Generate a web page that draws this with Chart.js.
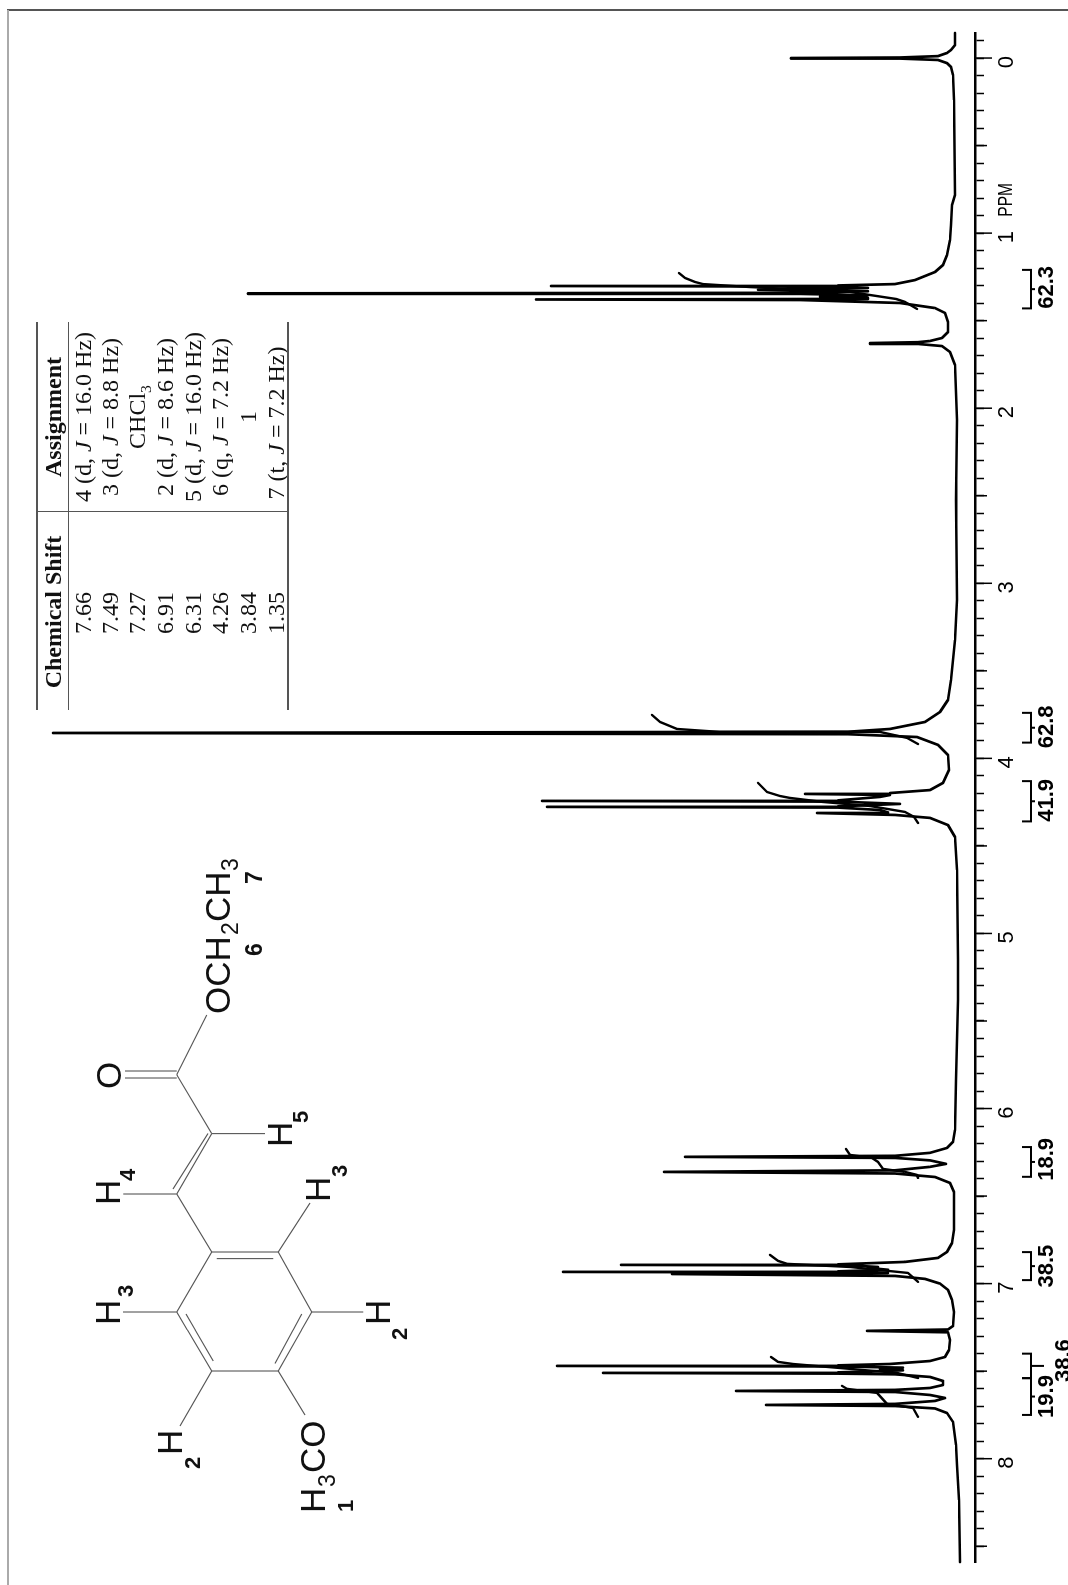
<!DOCTYPE html>
<html><head><meta charset="utf-8">
<style>
html,body{margin:0;padding:0;background:#fff;width:1068px;height:1585px;overflow:hidden}
#sheet{position:absolute;left:0;top:1585px;width:1585px;height:1068px;transform-origin:0 0;transform:rotate(-90deg);background:#fff;overflow:hidden}
#sheet canvas{position:absolute;left:0;top:0}
#mol{position:absolute;left:0;top:0}
.t{position:absolute;transform:translate(-50%,-50%);white-space:nowrap;font-family:"Liberation Serif",serif;font-size:24px;line-height:1;color:#111}
.h{font-weight:bold;font-size:24px}
.r{position:absolute;background:#555}
sub{font-size:65%;line-height:0}
</style>
<script src="https://cdn.jsdelivr.net/npm/chart.js@4/dist/chart.umd.min.js"></script>
</head><body>
<div id="sheet"><canvas id="c" width="1585" height="1068"></canvas><svg id="mol" width="1585" height="1068" xmlns="http://www.w3.org/2000/svg"></svg></div>
<script>
// 1H NMR trace: chemical shift (ppm) and signal height
const tracePpm = [-0.143,-0.074,-0.046,-0.029,-0.011,-0.003,0,0.003,0.011,0.029,0.051,0.097,0.24,0.782,0.84,0.954,1.039,1.125,1.182,1.222,1.268,1.291,1.299,1.302,1.305,1.313,1.323,1.332,1.341,1.344,1.347,1.355,1.363,1.371,1.376,1.379,1.382,1.399,1.428,1.456,1.508,1.565,1.599,1.616,1.623,1.628,1.633,1.645,1.679,1.753,2.067,2.524,3.095,3.324,3.552,3.666,3.735,3.792,3.832,3.848,3.855,3.862,3.878,3.923,3.981,4.066,4.14,4.181,4.198,4.203,4.209,4.22,4.24,4.243,4.247,4.26,4.274,4.277,4.281,4.295,4.309,4.312,4.323,4.34,4.381,4.449,4.637,5.151,5.38,5.837,6.122,6.19,6.225,6.253,6.27,6.276,6.282,6.296,6.316,6.333,6.353,6.362,6.371,6.391,6.425,6.477,6.693,6.768,6.819,6.853,6.876,6.89,6.893,6.896,6.905,6.91,6.921,6.93,6.933,6.936,6.939,6.945,6.956,6.973,7.0,7.036,7.093,7.162,7.242,7.262,7.27,7.278,7.322,7.379,7.419,7.442,7.459,7.467,7.47,7.473,7.48,7.487,7.495,7.507,7.51,7.514,7.518,7.533,7.556,7.579,7.596,7.607,7.613,7.619,7.636,7.653,7.67,7.687,7.693,7.699,7.713,7.739,7.79,7.921,8.036,8.236,8.59];
const traceHeight = [3,3,7,11,20,58,167,58,20,11,7,5,4,3,6,7,8,11,15,23,43,63,120,407,158,90,200,90,158,710,158,90,138,90,120,422,158,58,23,13,10,10,16,28,40,88,40,16,8,3,1,2,1,3,7,10,18,33,68,110,905,110,41,20,10,9,15,28,68,153,68,78,120,416,120,58,120,411,120,78,70,141,63,28,10,3,1,0,0,2,3,5,11,28,63,273,63,28,12,28,63,294,63,23,8,4,4,6,11,20,53,120,337,108,80,90,70,120,395,120,70,286,63,33,18,10,6,4,5,10,91,10,8,9,13,28,68,120,401,120,55,78,55,120,355,120,63,28,15,15,28,63,222,63,28,13,23,63,192,63,23,11,5,2,1,-1,-2];

// Integral trace segments over each multiplet
const int135Ppm = [1.228,1.256,1.279,1.291,1.308,1.336,1.376,1.393,1.433];
const int135Val = [279,273,263,255,208,108,62,53,41];
const int384Ppm = [3.752,3.792,3.832,3.849,3.849,3.849,3.883,3.918];
const int384Val = [306,298,281,238,158,78,51,40];
const int426Ppm = [4.14,4.192,4.215,4.226,4.249,4.272,4.306,4.334,4.369];
const int426Val = [200,191,178,168,135,88,53,44,40];
const int631Ppm = [6.231,6.265,6.282,6.305,6.345,6.362,6.379,6.396];
const int631Val = [112,108,86,80,75,53,41,40];
const int691Ppm = [6.836,6.87,6.887,6.905,6.939,6.99];
const int691Val = [188,180,171,108,50,40];
const int749Ppm = [7.419,7.447,7.459,7.51,7.539];
const int749Val = [187,180,165,61,40];
const int766Ppm = [7.584,7.601,7.624,7.687,7.71,7.761];
const int766Val = [116,111,81,71,45,40];

// Integration brackets printed under the axis
const bracketFrom = [1.21,3.74,4.13,6.22,6.82,7.40,7.54];
const bracketTo   = [1.43,3.91,4.36,6.39,6.98,7.54,7.75];
const bracketText = ["62.3","62.8","41.9","18.9","38.5","38.6","19.9"];
const bracketTextAt = [1.31,3.82,4.24,6.29,6.90,7.44,7.645];

// Axis
const axisMin = -0.143, axisMax = 8.59;
const tickCount = 87, firstTick = -1; // tenths of a ppm
const labelledTicks = ["0","1","2","3","4","5","6","7","8"];
const axisUnit = "PPM";

// Assignment table
const tableHead = ["Chemical Shift","Assignment"];
const tableShifts = ["7.66","7.49","7.27","6.91","6.31","4.26","3.84","1.35"];
const tableAssign = ["4 (d, <i>J</i> = 16.0 Hz)","3 (d, <i>J</i> = 8.8 Hz)","CHCl<sub>3</sub>","2 (d, <i>J</i> = 8.6 Hz)","5 (d, <i>J</i> = 16.0 Hz)","6 (q, <i>J</i> = 7.2 Hz)","1","7 (t, <i>J</i> = 7.2 Hz)"];

const toPoints = (xs, ys) => xs.map((x, i) => ({x, y: ys[i]}));
const traceStyle = {showLine:true, pointRadius:0, borderColor:'#000', borderJoinStyle:'round', borderCapStyle:'round', tension:0, clip:false};

const extras = {
  id:'extras',
  afterDraw(chart){
    const {ctx, scales:{x}} = chart;
    const base = chart.chartArea.bottom;
    ctx.save();
    ctx.strokeStyle = '#000';
    ctx.fillStyle = '#000';
    // longer ticks at half and whole ppm
    ctx.lineWidth = 1.5;
    for(let i=0;i<tickCount;i++){
      const n = firstTick + i;
      if(n % 5 !== 0) continue;
      const p = x.getPixelForValue(n/10);
      ctx.beginPath(); ctx.moveTo(p, base); ctx.lineTo(p, base + (n % 10 === 0 ? 17 : 12)); ctx.stroke();
    }
    // unit, in a condensed cut
    ctx.textAlign = 'center'; ctx.textBaseline = 'alphabetic';
    ctx.font = '21px "Liberation Sans",sans-serif';
    ctx.save();
    ctx.translate(x.getPixelForValue(0.81), base + 37);
    ctx.scale(0.74,1);
    ctx.fillText(axisUnit, 0, 0);
    ctx.restore();
    // integrals
    ctx.lineWidth = 2;
    ctx.lineJoin = 'miter';
    bracketFrom.forEach((from,i)=>{
      const a = x.getPixelForValue(from), b = x.getPixelForValue(bracketTo[i]), m = (a+b)/2;
      const y = base + 56, stem = bracketText[i] === "38.6" ? 69 : 60;
      ctx.beginPath();
      ctx.moveTo(a, base+47); ctx.lineTo(a, y); ctx.lineTo(b, y); ctx.lineTo(b, base+47);
      ctx.moveTo(m, y); ctx.lineTo(m, base+stem);
      ctx.stroke();
      ctx.font = 'bold 22px "Liberation Sans",sans-serif';
      ctx.fillText(bracketText[i], x.getPixelForValue(bracketTextAt[i]), base + (bracketText[i] === "38.6" ? 95 : 78));
    });
    ctx.restore();
  }
};

new Chart(document.getElementById('c'), {
  type:'scatter',
  data:{datasets:[
    {label:'Spectrum', data:toPoints(tracePpm, traceHeight), borderWidth:2.7, ...traceStyle},
    {label:'Integral 1.35', data:toPoints(int135Ppm, int135Val), borderWidth:2.4, ...traceStyle},
    {label:'Integral 3.84', data:toPoints(int384Ppm, int384Val), borderWidth:2.4, ...traceStyle},
    {label:'Integral 4.26', data:toPoints(int426Ppm, int426Val), borderWidth:2.4, ...traceStyle},
    {label:'Integral 6.31', data:toPoints(int631Ppm, int631Val), borderWidth:2.4, ...traceStyle},
    {label:'Integral 6.91', data:toPoints(int691Ppm, int691Val), borderWidth:2.4, ...traceStyle},
    {label:'Integral 7.49', data:toPoints(int749Ppm, int749Val), borderWidth:2.4, ...traceStyle},
    {label:'Integral 7.66', data:toPoints(int766Ppm, int766Val), borderWidth:2.4, ...traceStyle}
  ]},
  options:{
    responsive:false, animation:false, devicePixelRatio:1,
    layout:{padding:{left:23,right:33,top:0,bottom:0}},
    plugins:{legend:{display:false},tooltip:{enabled:false}},
    scales:{
      x:{type:'linear',reverse:true,min:axisMin,max:axisMax,position:'bottom',
        afterBuildTicks(s){ s.ticks = Array.from({length:tickCount},(_,i)=>({value:(firstTick+i)/10})); },
        afterFit(s){ s.height = 93; },
        border:{display:true,color:'#000',width:2.5},
        grid:{display:true,drawOnChartArea:false,drawTicks:true,tickLength:9,tickWidth:1.5,tickColor:'#000'},
        ticks:{autoSkip:false,maxRotation:0,minRotation:0,padding:10,labelOffset:-4,color:'#000',
          font:{family:'"Liberation Sans",sans-serif',size:22},
          callback(v){ const r=Math.round(v); return Math.abs(v-r)<1e-6 && labelledTicks[r]!==undefined ? labelledTicks[r] : ''; }}
      },
      y:{type:'linear',display:false,min:-17,max:958}
    }
  },
  plugins:[extras]
});

// Table: positions given on the upright page (px = across, py = down)
const sheet = document.getElementById('sheet');
function put(html,cls,px,py){const d=document.createElement('div');d.className='t '+cls;d.innerHTML=html;d.style.left=(1585-py)+'px';d.style.top=px+'px';sheet.appendChild(d);}
function rule(px0,py0,px1,py1,w){const d=document.createElement('div');d.className='r';d.style.left=(1585-Math.max(py0,py1))+'px';d.style.top=(px0-w/2)+'px';d.style.width=Math.max(Math.abs(py1-py0),w)+'px';d.style.height=Math.max(px1-px0,w)+'px';sheet.appendChild(d);}
put(tableHead[0],'h',53,612); put(tableHead[1],'h',53,417);
const rowAt=[83,110,137,165,193,220,248,276];
const assignAt=[417,417,417,417,417,417,417,423];
tableShifts.forEach((s,i)=>put(s,'',rowAt[i],613));
tableAssign.forEach((s,i)=>put(s,'',rowAt[i],assignAt[i]));
rule(37,322,37,710,2); rule(68,322,68,710,1); rule(288,322,288,710,2); rule(37,512,288,512,1);

// Structure drawing
const mol=document.getElementById('mol');
const NS='http://www.w3.org/2000/svg';
const bonds=[[211.7,1252,278.3,1252],[278.3,1252,311.7,1312],[311.7,1312,278.3,1371],[278.3,1371,211.7,1371],[211.7,1371,176.7,1312],[176.7,1312,211.7,1252],
[216.7,1258.6,273.3,1258.6],[301.7,1314,275,1363.5],[186,1314,213.3,1361],
[211.7,1252,176.7,1194],[176.7,1194,211.7,1133.6],[173,1189,208,1133.5],[211.7,1133.6,176.7,1074.6],
[125,1071,176.7,1071],[125,1078,176.7,1078],[176.7,1074.6,206.7,1015],[211.7,1133.6,265,1133.6],[123.3,1194,176.7,1194],
[278.3,1252,310,1203],[123,1312,176.7,1312],[311.7,1312,363.3,1312],[211.7,1371,180,1426],[278.3,1371,305,1415]];
bonds.forEach(b=>{const l=document.createElementNS(NS,'line');l.setAttribute('x1',1585-b[1]);l.setAttribute('y1',b[0]);l.setAttribute('x2',1585-b[3]);l.setAttribute('y2',b[2]);l.setAttribute('stroke','#555');l.setAttribute('stroke-width','1.1');mol.appendChild(l);});
const atoms=[
 ['O',121,1089,35,0],['OCH',230,1014,35,0],['2',238,935,23,0],['CH',230,922,35,0],['3',238,871,23,0],['6',262,956,23,1],['7',262,884,23,1],
 ['H',120,1205,35,0],['4',135,1181,22,1],['H',292,1147,35,0],['5',308,1123,22,1],['H',330,1202,35,0],['3',347,1177,22,1],
 ['H',120,1325,35,0],['3',133,1297,22,1],['H',390,1325,35,0],['2',407,1340,22,1],['H',182,1455,35,0],['2',200,1469,22,1],
 ['H',325,1513,35,0],['3',335,1487,23,0],['CO',325,1473,35,0],['1',353,1512,22,1]];
atoms.forEach(a=>{const t=document.createElementNS(NS,'text');t.textContent=a[0];t.setAttribute('x',1585-a[2]);t.setAttribute('y',a[1]);t.setAttribute('font-family','Liberation Sans, sans-serif');t.setAttribute('font-size',a[3]);if(a[4])t.setAttribute('font-weight','bold');t.setAttribute('fill','#111');mol.appendChild(t);});

// Frame: top edge and left edge of the scanned page
const topEdge=document.createElement('div');topEdge.className='r';topEdge.style.cssText='left:1574px;top:7px;width:1.5px;height:1061px;background:#555';sheet.appendChild(topEdge);
const leftEdge=document.createElement('div');leftEdge.className='r';leftEdge.style.cssText='left:0;top:7px;width:1575px;height:2px;background:#aaa';sheet.appendChild(leftEdge);
</script>
</body></html>
